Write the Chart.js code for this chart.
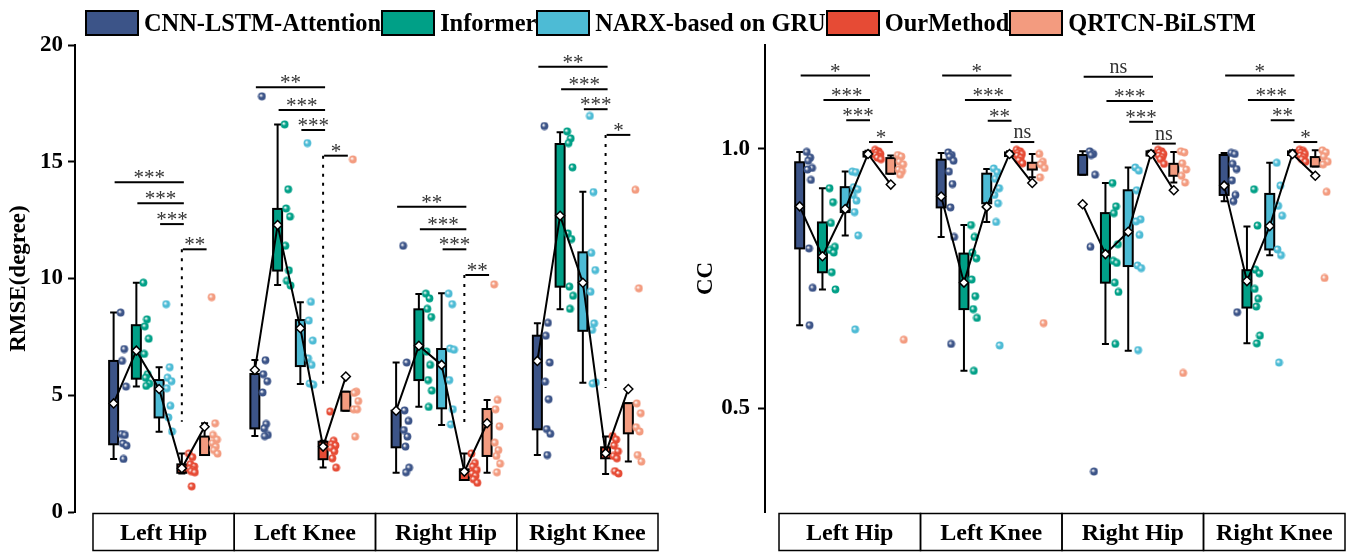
<!DOCTYPE html>
<html lang="en">
<head>
<meta charset="UTF-8">
<title>RMSE and CC box plots</title>
<script src="https://cdn.jsdelivr.net/npm/chart.js"></script>
<style>
  body { margin: 0; background: #fff; }
  #wrap { position: relative; width: 1354px; height: 552px; }
  #left { position: absolute; left: 0; top: 0; }
  #right { position: absolute; left: 680px; top: 0; }
  #legend { position: absolute; top: 9px; left: 85px; display: flex; align-items: center;
            font: bold 24.4px "Liberation Serif", serif; color: #000; white-space: nowrap; }
  #legend .sw { width: 50px; height: 22px; border: 2.5px solid #000; margin-right: 5px; }
</style>
<script>
const joints = ['Left Hip', 'Left Knee', 'Right Hip', 'Right Knee'];
const methods = ['CNN-LSTM-Attention', 'Informer', 'NARX-based on GRU', 'OurMethod', 'QRTCN-BiLSTM'];
const colors = ['#3C5488', '#00A087', '#4DBBD5', '#E64B35', '#F39B7F'];

// box stats per joint: [min, q1, q3, max]
const rmseBoxCnn = [[2.27, 2.9, 6.47, 8.54], [3.25, 3.58, 5.91, 6.51], [1.68, 2.77, 4.34, 6.4], [2.44, 3.54, 7.55, 8.08]];
const rmseBoxInf = [[5.37, 5.71, 8.0, 9.82], [9.72, 10.34, 12.98, 16.6], [4.51, 5.65, 8.68, 9.34], [8.68, 9.65, 15.76, 16.26]];
const rmseBoxNarx = [[3.44, 4.05, 5.65, 6.2], [5.48, 6.25, 8.22, 8.98], [3.73, 4.44, 6.98, 9.37], [5.54, 7.76, 11.12, 13.72]];
const rmseBoxOur = [[1.65, 1.68, 2.04, 2.51], [1.91, 2.26, 3.01, 3.05], [1.37, 1.37, 1.83, 2.51], [1.63, 2.3, 2.77, 3.23]];
const rmseBoxQr = [[2.44, 2.44, 3.23, 3.8], [4.34, 4.34, 5.15, 5.15], [1.68, 2.4, 4.41, 4.8], [2.16, 3.37, 4.66, 4.66]];

const rmseMeanCnn = [4.65, 6.08, 4.34, 6.47];
const rmseMeanInf = [6.91, 12.29, 7.12, 12.69];
const rmseMeanNarx = [5.27, 7.87, 6.3, 9.82];
const rmseMeanOur = [1.87, 2.8, 1.73, 2.51];
const rmseMeanQr = [3.65, 5.8, 3.8, 5.27];

const rmsePtsCnn = [[8.54, 6.98, 6.47, 5.37, 3.34, 3.3, 2.94, 2.84, 2.27], [17.8, 6.5, 5.9, 5.6, 5.12, 3.77, 3.58, 3.3, 3.25],
  [11.4, 6.4, 4.35, 3.9, 3.51, 3.23, 2.8, 1.9, 1.7], [16.53, 8.1, 7.55, 6.4, 5.58, 4.83, 3.55, 3.35, 2.44]];
const rmsePtsInf = [[9.82, 8.25, 7.95, 7.42, 6.77, 5.9, 5.75, 5.5, 5.4], [16.6, 13.82, 13.0, 12.65, 11.4, 10.35, 9.9, 9.7],
  [9.35, 9.15, 8.7, 8.35, 6.87, 6.3, 5.65, 5.2, 4.5], [16.3, 16.0, 15.8, 14.76, 11.93, 11.69, 9.65, 9.26, 8.7]];
const rmsePtsNarx = [[8.9, 6.2, 5.75, 5.6, 5.3, 4.55, 4.05, 3.45], [15.8, 9.0, 8.2, 7.34, 6.58, 6.3, 5.5, 5.45],
  [9.35, 8.9, 7.0, 6.95, 5.65, 4.4, 3.75], [16.96, 13.7, 11.1, 10.36, 9.43, 8.08, 7.8, 5.55, 5.5]];
const rmsePtsOur = [[2.5, 2.35, 2.05, 1.95, 1.85, 1.8, 1.75, 1.7, 1.1], [4.3, 3.05, 2.9, 2.85, 2.75, 2.6, 2.3, 1.9],
  [2.5, 2.1, 1.95, 1.8, 1.65, 1.55, 1.4, 1.25], [3.25, 3.1, 2.85, 2.6, 2.4, 2.3, 1.75, 1.65]];
const rmsePtsQr = [[9.2, 3.8, 3.3, 3.1, 2.95, 2.8, 2.65, 2.5], [15.1, 5.15, 5.1, 4.75, 4.4, 4.4, 3.23],
  [9.75, 4.8, 4.4, 3.67, 2.97, 2.65, 2.4, 2.07, 1.7], [13.8, 9.58, 4.65, 4.23, 3.63, 3.45, 2.44, 2.16]];

const ccBoxCnn = [[0.66, 0.808, 0.974, 0.994], [0.83, 0.887, 0.979, 0.992], [0.95, 0.95, 0.988, 0.995], [0.899, 0.911, 0.988, 0.992]];
const ccBoxInf = [[0.729, 0.762, 0.858, 0.924], [0.572, 0.691, 0.798, 0.853], [0.624, 0.742, 0.876, 0.934], [0.625, 0.694, 0.766, 0.85]];
const ccBoxNarx = [[0.833, 0.878, 0.926, 0.956], [0.859, 0.895, 0.952, 0.961], [0.611, 0.774, 0.92, 0.964], [0.795, 0.806, 0.913, 0.973]];
const ccBoxOur = [[0.985, 0.985, 0.994, 0.996], [0.986, 0.986, 0.993, 0.995], [0.987, 0.987, 0.995, 0.996], [0.988, 0.988, 0.995, 0.997]];
const ccBoxQr = [[0.952, 0.952, 0.982, 0.987], [0.945, 0.96, 0.973, 0.99], [0.935, 0.948, 0.971, 0.994], [0.966, 0.966, 0.984, 0.997]];

const ccMeanCnn = [0.889, 0.908, 0.893, 0.929];
const ccMeanInf = [0.793, 0.742, 0.797, 0.745];
const ccMeanNarx = [0.884, 0.888, 0.84, 0.851];
const ccMeanOur = [0.99, 0.99, 0.99, 0.99];
const ccMeanQr = [0.931, 0.934, 0.92, 0.948];

const ccPtsCnn = [[0.994, 0.983, 0.977, 0.963, 0.96, 0.94, 0.808, 0.732, 0.66], [0.993, 0.988, 0.985, 0.977, 0.956, 0.932, 0.887, 0.83, 0.624],
  [0.995, 0.99, 0.988, 0.95, 0.811, 0.378], [0.992, 0.99, 0.971, 0.961, 0.939, 0.911, 0.899, 0.685]];
const ccPtsInf = [[0.924, 0.897, 0.857, 0.811, 0.805, 0.8, 0.762, 0.729], [0.853, 0.83, 0.8, 0.789, 0.748, 0.716, 0.691, 0.674, 0.572],
  [0.934, 0.889, 0.876, 0.816, 0.784, 0.78, 0.742, 0.724, 0.624], [0.922, 0.852, 0.767, 0.76, 0.73, 0.711, 0.696, 0.64, 0.625]];
const ccPtsNarx = [[0.956, 0.955, 0.926, 0.922, 0.911, 0.9, 0.878, 0.833, 0.652], [0.962, 0.955, 0.942, 0.924, 0.911, 0.895, 0.859, 0.621],
  [0.964, 0.958, 0.92, 0.864, 0.86, 0.834, 0.775, 0.77, 0.612], [0.973, 0.929, 0.89, 0.871, 0.806, 0.795, 0.588]];
const ccPtsOur = [[0.998, 0.995, 0.993, 0.99, 0.988, 0.985, 0.983, 0.98], [0.998, 0.995, 0.992, 0.99, 0.987, 0.983, 0.978, 0.972],
  [0.998, 0.995, 0.993, 0.99, 0.987, 0.984, 0.98, 0.971], [0.998, 0.996, 0.993, 0.99, 0.987, 0.984, 0.98, 0.975]];
const ccPtsQr = [[0.988, 0.985, 0.975, 0.97, 0.96, 0.957, 0.95, 0.632], [0.99, 0.975, 0.97, 0.963, 0.945, 0.664],
  [0.995, 0.993, 0.972, 0.96, 0.948, 0.935, 0.568], [0.997, 0.993, 0.985, 0.975, 0.97, 0.917, 0.751]];

// significance bars: each joint, 4 levels (CNN/Informer/NARX vs Ours, Ours vs QRTCN)
const rmseSigLevels = [[14.12, 13.22, 12.33, 11.25], [18.19, 17.22, 16.36, 15.26], [13.07, 12.11, 11.25, 10.15], [19.07, 18.1, 17.25, 16.15]];
const rmseSigLabels = [['***', '***', '***', '**'], ['**', '***', '***', '*'], ['**', '***', '***', '**'], ['**', '***', '***', '*']];
const rmseDotEnd = [3.87, 5.44, 3.81, 5.31];
const ccSigLevels = [[1.141, 1.094, 1.055, 1.013], [1.141, 1.094, 1.054, 1.013], [1.139, 1.092, 1.052, 1.01], [1.141, 1.094, 1.055, 1.013]];
const ccSigLabels = [['*', '***', '***', '*'], ['*', '***', '**', 'ns'], ['ns', '***', '***', 'ns'], ['*', '***', '**', '*']];

const jitter = [0.05, 0.075, 0.06, 0.088, 0.055, 0.08, 0.066, 0.092, 0.07];
function boxX(j, m) { return j + 1 + (m - 2) * 0.161 - 0.032; }

function ball(color) {
  const c = document.createElement('canvas');
  c.width = c.height = 9;
  const g = c.getContext('2d');
  const gr = g.createRadialGradient(3.4, 3.4, 0.3, 4.5, 4.5, 4.2);
  gr.addColorStop(0, '#ffffff');
  gr.addColorStop(0.45, color);
  gr.addColorStop(1, color);
  g.fillStyle = gr;
  g.beginPath(); g.arc(4.5, 4.5, 3.9, 0, Math.PI * 2); g.fill();
  return c;
}

const annot = {
  id: 'annot',
  beforeDatasetsDraw(chart, args, o) {
    const ctx = chart.ctx, x = chart.scales.x, y = chart.scales.y;
    ctx.save();
    ctx.strokeStyle = '#000';
    ctx.lineWidth = 2;
    o.boxes.forEach((arr, m) => arr.forEach((b, j) => {
      const cx = x.getPixelForValue(boxX(j, m));
      const mn = y.getPixelForValue(b[0]), q1 = y.getPixelForValue(b[1]);
      const q3 = y.getPixelForValue(b[2]), mx = y.getPixelForValue(b[3]);
      ctx.beginPath();
      ctx.moveTo(cx, mx); ctx.lineTo(cx, q3);
      ctx.moveTo(cx, q1); ctx.lineTo(cx, mn);
      ctx.moveTo(cx - 3.5, mx); ctx.lineTo(cx + 3.5, mx);
      ctx.moveTo(cx - 3.5, mn); ctx.lineTo(cx + 3.5, mn);
      ctx.stroke();
      ctx.fillStyle = colors[m];
      ctx.fillRect(cx - 4.5, q3, 9, q1 - q3);
      ctx.strokeRect(cx - 4.5, q3, 9, q1 - q3);
    }));
    ctx.restore();
  },
  afterDatasetsDraw(chart, args, o) {
    const ctx = chart.ctx, x = chart.scales.x, y = chart.scales.y;
    ctx.save();
    ctx.strokeStyle = '#000';
    ctx.lineWidth = 2;
    ctx.textAlign = 'center';
    o.levels.forEach((lv, j) => {
      lv.forEach((v, i) => {
        const a = i < 3 ? i : 3, b = i < 3 ? 3 : 4;
        const x0 = x.getPixelForValue(boxX(j, a)) + 1, x1 = x.getPixelForValue(boxX(j, b)) + 2;
        const py = y.getPixelForValue(v);
        ctx.beginPath(); ctx.moveTo(x0, py); ctx.lineTo(x1, py); ctx.stroke();
        const t = o.labels[j][i];
        ctx.fillStyle = '#333';
        ctx.font = t === 'ns' ? '20px "Liberation Serif", serif' : '21px "Liberation Serif", serif';
        ctx.fillText(t, (x0 + x1) / 2, t === 'ns' ? py - 4 : py + 2);
      });
      if (o.dotEnd) {
        const px = x.getPixelForValue(boxX(j, 3));
        ctx.save();
        ctx.setLineDash([3, 6]);
        ctx.beginPath();
        ctx.moveTo(px, y.getPixelForValue(lv[3]));
        ctx.lineTo(px, y.getPixelForValue(o.dotEnd[j]));
        ctx.stroke();
        ctx.restore();
      }
    });
    ctx.restore();
  },
  afterDraw(chart) {
    const ctx = chart.ctx, x = chart.scales.x, area = chart.chartArea;
    ctx.save();
    ctx.strokeStyle = '#000';
    ctx.lineWidth = 1.5;
    ctx.fillStyle = '#000';
    ctx.font = 'bold 24px "Liberation Serif", serif';
    ctx.textAlign = 'center';
    ctx.textBaseline = 'middle';
    joints.forEach((name, j) => {
      const l = x.getPixelForValue(j + 0.5), r = x.getPixelForValue(j + 1.5);
      const top = area.bottom + 1.5;
      ctx.strokeRect(l, top, r - l, 37);
      ctx.fillText(name, (l + r) / 2, top + 20);
    });
    ctx.restore();
  }
};

function makeChart(id, opt) {
  const datasets = [];
  opt.pts.forEach((arr, m) => {
    const data = [];
    arr.forEach((vals, j) => vals.forEach((v, k) => data.push({ x: boxX(j, m) + jitter[k % jitter.length], y: v })));
    datasets.push({ type: 'scatter', data: data, pointStyle: ball(colors[m]), order: 2 });
  });
  joints.forEach((name, j) => {
    datasets.push({
      type: 'line',
      data: opt.means.map((mm, m) => ({ x: boxX(j, m), y: mm[j] })),
      borderColor: '#000', borderWidth: 2, fill: false,
      pointStyle: 'rectRot', pointRadius: 4.5,
      pointBackgroundColor: '#fff', pointBorderColor: '#000', pointBorderWidth: 1.5,
      order: 1
    });
  });
  return new Chart(document.getElementById(id), {
    type: 'scatter',
    data: { datasets: datasets },
    plugins: [annot],
    options: {
      responsive: false,
      animation: false,
      layout: { padding: opt.padding },
      plugins: {
        legend: { display: false },
        tooltip: { enabled: false },
        annot: { boxes: opt.boxes, levels: opt.levels, labels: opt.labels, dotEnd: opt.dotEnd }
      },
      scales: {
        x: { type: 'linear', display: false, min: opt.xmin, max: 4.5 },
        y: {
          min: opt.ymin, max: opt.ymax,
          ticks: {
            stepSize: opt.step, color: '#000', padding: opt.tickPad,
            font: { family: '"Liberation Serif", serif', size: 23, weight: 'bold' },
            callback: opt.fmt
          },
          afterBuildTicks(scale) { scale.ticks = opt.ticks.map(v => ({ value: v })); },
          afterFit(scale) { scale.width = opt.axisW; },
          grid: { drawOnChartArea: false, drawTicks: true, tickLength: 7, tickWidth: 2, tickColor: '#000' },
          border: { display: true, color: '#000', width: 2 },
          title: {
            display: true, text: opt.title, color: '#000', padding: { top: opt.titlePad, bottom: 0 },
            font: { family: '"Liberation Serif", serif', size: 23, weight: 'bold' }
          }
        }
      }
    }
  });
}

window.onload = function() {
  const leg = document.getElementById('legend');
  methods.forEach((name, m) => {
    const sw = document.createElement('div');
    sw.className = 'sw';
    sw.style.background = colors[m];
    const t = document.createElement('span');
    t.textContent = name;
    leg.appendChild(sw);
    leg.appendChild(t);
  });

  makeChart('left', {
    boxes: [rmseBoxCnn, rmseBoxInf, rmseBoxNarx, rmseBoxOur, rmseBoxQr],
    means: [rmseMeanCnn, rmseMeanInf, rmseMeanNarx, rmseMeanOur, rmseMeanQr],
    pts: [rmsePtsCnn, rmsePtsInf, rmsePtsNarx, rmsePtsOur, rmsePtsQr],
    levels: rmseSigLevels, labels: rmseSigLabels, dotEnd: rmseDotEnd,
    padding: { top: 45, bottom: 40, left: 0, right: 22 },
    xmin: 0.3726, ymin: 0, ymax: 20, step: 5, ticks: [0, 5, 10, 15, 20],
    fmt: v => String(v), axisW: 75, tickPad: 5, title: 'RMSE(degree)', titlePad: 5
  });
  makeChart('right', {
    boxes: [ccBoxCnn, ccBoxInf, ccBoxNarx, ccBoxOur, ccBoxQr],
    means: [ccMeanCnn, ccMeanInf, ccMeanNarx, ccMeanOur, ccMeanQr],
    pts: [ccPtsCnn, ccPtsInf, ccPtsNarx, ccPtsOur, ccPtsQr],
    levels: ccSigLevels, labels: ccSigLabels, dotEnd: null,
    padding: { top: 45, bottom: 40, left: 0, right: 9 },
    xmin: 0.401, ymin: 0.3, ymax: 1.2, step: 0.5, ticks: [0.5, 1.0],
    fmt: v => v.toFixed(1), axisW: 85, tickPad: 8, title: 'CC', titlePad: 12
  });
};
</script>
</head>
<body>
<div id="wrap">
  <canvas id="left" width="680" height="552"></canvas>
  <canvas id="right" width="674" height="552"></canvas>
  <div id="legend"></div>
</div>
</body>
</html>
